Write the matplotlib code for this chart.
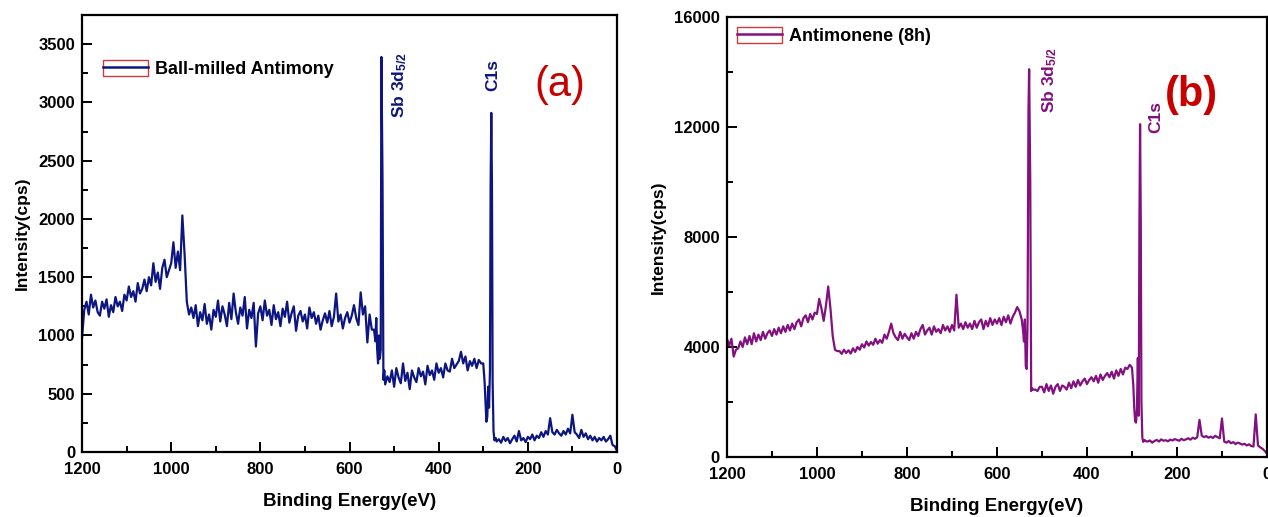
import numpy as np
import matplotlib.pyplot as plt
from matplotlib.patches import Patch
from matplotlib.lines import Line2D
from matplotlib.legend_handler import HandlerTuple
from matplotlib.ticker import MultipleLocator

plt.rcParams['font.family'] = ['Liberation Sans', 'DejaVu Sans']
plt.rcParams['font.weight'] = 'bold'
plt.rcParams['axes.labelweight'] = 'bold'
plt.rcParams['mathtext.fontset'] = 'custom'
plt.rcParams['mathtext.rm'] = 'Liberation Sans:bold'
plt.rcParams['mathtext.default'] = 'rm'

# survey grid, 1200 -> 0 eV in 5 eV steps (nan = replaced by the fine peak data)
energy_grid = np.arange(1200, -1, -5)
nan = np.nan

# (a) ball-milled antimony
counts_a = [
    980, 1220, 1290, 1180, 1350, 1240, 1300, 1200, 1170, 1290,
    1230, 1310, 1160, 1260, 1200, 1330, 1250, 1290, 1210, 1350,
    1300, 1420, 1330, 1380, 1290, 1450, 1360, 1400, 1480, 1380,
    1500, 1430, 1620, 1460, 1540, 1400, 1580, 1650, 1500, 1560,
    1620, 1800, 1580, 1720, 1560, 2030, 1700, 1290, 1180, 1240,
    1150, 1260, 1080, 1200, 1130, 1270, 1100, 1180, 1050, 1220,
    1160, 1300, 1120, 1250, 1180, 1080, 1280, 1140, 1360, 1200,
    1100, 1240, 1170, 1330, 1060, 1220, 1150, 1280, 905, 1190,
    1250, 1130, 1300, 1170, 1220, 1090, 1260, 1140, 1200, 1080,
    1230, 1160, 1290, 1110, 1190, 1250, 1040, 1170, 1210, 1120,
    1180, 1060, 1240, 1150, 1200, 1100, 1170, 1050, 1130, 1190,
    1110, 1210, 1080, 1160, 1360, 1120, 1180, 1060, 1150, 1200,
    1110, 1170, 1260, 1150, 1090, 1370, 1180, 1250, 940, 1180,
    1050, nan, nan, nan, nan, nan, nan, 650, 600, 700,
    560, 720, 640, 590, 760, 610, 680, 540, 700, 640,
    600, 720, 650, 690, 580, 740, 660, 700, 620, 760,
    680, 720, 640, 760, 700, 690, 800, 720, 750, 780,
    860, 760, 820, 700, 780, 740, 800, 720, 790, 760,
    nan, nan, nan, nan, nan, nan, nan, 110, 80, 130,
    95, 120, 75, 110, 140, 90, 180, 100, 120, 85,
    130, 110, 150, 100, 140, 120, 170, 130, 180, 150,
    290, 170, 150, 190, 160, 140, 180, 150, 200, 160,
    320, 170, 150, 120, 190, 130, 160, 110, 140, 100,
    130, 90, 120, 100, 130, 90, 110, 140, 60, 50,
    10,
]
sb_e_a = [545, 542, 540, 538, 536, 534, 532, 530, 528.5, 526, 524, 522, 520]
sb_i_a = [1050, 950, 1150, 880, 760, 1000, 800, 880, 3390, 2350, 620, 700, 580]
c1s_e_a = [300, 297, 295, 293, 291, 289, 287, 285, 283.5, 282, 280.5, 279, 277, 275, 272, 270]
c1s_i_a = [760, 600, 420, 260, 300, 560, 380, 700, 2300, 2910, 2300, 600, 180, 100, 120, 90]

# (b) antimonene (8h)
counts_b = [
    4300, 4050, 4300, 3650, 3900, 3950, 4200, 4000, 4350, 4100,
    4400, 4100, 4500, 4200, 4450, 4250, 4550, 4300, 4500, 4600,
    4400, 4650, 4450, 4700, 4500, 4750, 4550, 4800, 4600, 4850,
    4650, 4900, 5000, 4750, 5050, 5150, 4900, 5200, 5000, 5250,
    5200, 5750, 5400, 4950, 5500, 6200, 5400, 4400, 3900, 3850,
    3850, 3750, 3900, 3780, 3880, 3760, 3950, 3820, 4000, 3900,
    4100, 3980, 4200, 4050, 4180, 4080, 4300, 4120, 4250, 4150,
    4450, 4300, 4550, 4850, 4500, 4350, 4250, 4550, 4300, 4480,
    4350, 4250, 4500, 4300, 4550, 4400, 4650, 4800, 4450, 4600,
    4700, 4450, 4750, 4550, 4650, 4500, 4800, 4600, 4750, 4550,
    4800, 4600, 5900, 4700, 4850, 4650, 4900, 4700, 4850, 4650,
    4950, 4700, 4900, 5000, 4650, 4950, 4750, 5050, 4800, 5000,
    4850, 5050, 4800, 5100, 4900, 5150, 4850, 5100, 5250, 5450,
    5300, nan, nan, nan, nan, nan, nan, 2450, 2400, 2550,
    2550, 2350, 2650, 2400, 2600, 2300, 2550, 2650, 2400, 2600,
    2550, 2450, 2700, 2500, 2750, 2550, 2800, 2600, 2750, 2850,
    2650, 2800, 2900, 2750, 2950, 2700, 3000, 2800, 2950, 3050,
    2900, 3100, 2850, 3150, 2950, 3200, 3000, 3250, 3200, 3350,
    nan, nan, nan, nan, nan, nan, nan, 560, 600, 520,
    580, 620, 560, 640, 590, 610, 570, 630, 600, 650,
    620, 590, 660, 610, 640, 680, 630, 700, 660, 720,
    1350, 780, 720, 760, 700, 740, 690, 770, 720, 680,
    1400, 560, 520, 580, 500, 540, 470, 520, 490, 450,
    480, 420, 460, 400, 380, 1550, 420, 350, 300, 220,
    120,
]
sb_e_b = [545, 542, 540, 538, 536, 534, 532, 530, 528.5, 526, 524, 522, 520]
sb_i_b = [5000, 4600, 4200, 5000, 3300, 3200, 4900, 12600, 14100, 10000, 2400, 2500, 2450]
c1s_e_b = [300, 297, 295, 293, 291, 289, 287, 285, 283.5, 282, 280.5, 279, 277, 275, 272, 270]
c1s_i_b = [3250, 2600, 1800, 1300, 1250, 1700, 3600, 1500, 8500, 12100, 8700, 2000, 700, 550, 620, 580]


def assemble(grid_i, windows):
    e = energy_grid.astype(float)
    i = np.asarray(grid_i, float)
    keep = ~np.isnan(i)
    es = [e[keep]] + [np.asarray(w[0], float) for w in windows]
    ys = [i[keep]] + [np.asarray(w[1], float) for w in windows]
    e = np.concatenate(es)
    i = np.concatenate(ys)
    order = np.argsort(-e)
    return e[order], i[order]


def style_axes(ax, ymax, ymaj, ymin):
    ax.set_xlim(1200, 0)
    ax.set_ylim(0, ymax)
    ax.xaxis.set_major_locator(MultipleLocator(200))
    ax.xaxis.set_minor_locator(MultipleLocator(100))
    ax.yaxis.set_major_locator(MultipleLocator(ymaj))
    ax.yaxis.set_minor_locator(MultipleLocator(ymin))
    ax.tick_params(which='both', direction='in', top=False, right=False, width=1.4, labelsize=12)
    ax.tick_params(which='major', length=7)
    ax.tick_params(which='minor', length=4)
    ax.tick_params(axis='x', pad=7)
    ax.tick_params(axis='y', pad=5)
    for s in ax.spines.values():
        s.set_linewidth(1.6)
    ax.set_xlabel('Binding Energy(eV)', fontsize=13.5, labelpad=12)
    ax.set_ylabel('Intensity(cps)', fontsize=12.5, labelpad=6)


def add_legend(ax, color, label, anchor):
    h = (Patch(facecolor='none', edgecolor='#d03a3a', linewidth=1.0),
         Line2D([], [], color=color, linewidth=1.8))
    ax.legend([h], [label], handler_map={tuple: HandlerTuple(ndivide=1, pad=0)},
              loc='upper left', bbox_to_anchor=anchor, frameon=False,
              fontsize=13, handlelength=2.5, handleheight=1.0,
              handletextpad=0.4, borderpad=0, borderaxespad=0)


fig = plt.figure(figsize=(12.68, 5.17), dpi=100)
ax_a = fig.add_axes([0.0647, 0.1257, 0.4219, 0.8453])
ax_b = fig.add_axes([0.5733, 0.1161, 0.4259, 0.8511])

col_a = '#0d1680'
col_b = '#82107f'

ea, ia = assemble(counts_a, [(sb_e_a, sb_i_a), (c1s_e_a, c1s_i_a)])
ax_a.plot(ea, ia, color=col_a, linewidth=1.6)
style_axes(ax_a, 3750, 500, 250)
add_legend(ax_a, col_a, 'Ball-milled Antimony', (0.039, 0.897))
ax_a.text(487, 2870, r'Sb 3d$_{5/2}$', rotation=90, ha='center', va='bottom',
          color=col_a, fontsize=12.5)
ax_a.text(279, 3095, 'C1s', rotation=90, ha='center', va='bottom',
          color=col_a, fontsize=12.5)
ax_a.text(0.893, 0.84, '(a)', transform=ax_a.transAxes, ha='center', va='center',
          color='#c80000', fontsize=30, fontweight='normal')

eb, ib = assemble(counts_b, [(sb_e_b, sb_i_b), (c1s_e_b, c1s_i_b)])
ax_b.plot(eb, ib, color=col_b, linewidth=1.6)
style_axes(ax_b, 16000, 4000, 2000)
add_legend(ax_b, col_b, 'Antimonene (8h)', (0.0185, 0.977))
ax_b.text(484, 12500, r'Sb 3d$_{5/2}$', rotation=90, ha='center', va='bottom',
          color=col_b, fontsize=12.5)
ax_b.text(247, 11780, 'C1s', rotation=90, ha='center', va='bottom',
          color=col_b, fontsize=12.5)
ax_b.text(0.861, 0.823, '(b)', transform=ax_b.transAxes, ha='center', va='center',
          color='#c80000', fontsize=30, fontweight='bold')

fig.savefig('out.png', dpi=100)
